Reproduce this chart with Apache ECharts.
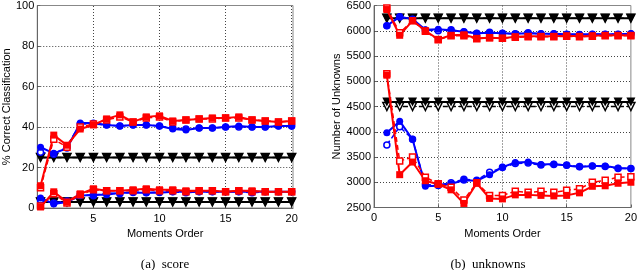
<!DOCTYPE html>
<html><head><meta charset="utf-8">
<script src="https://cdn.jsdelivr.net/npm/echarts@6/dist/echarts.min.js"></script>
<style>html,body{margin:0;padding:0;background:#fff}#c{width:640px;height:270px}</style>
</head><body><div id="c"></div>
<script>
// ---- data ----
var moments = [1,2,3,4,5,6,7,8,9,10,11,12,13,14,15,16,17,18,19,20];
var xTicks = [5,10,15,20];
var xTicksB = [0,5,10,15,20];

// (a) score
var scoreRedTopFilled  = [11,36,31,39,41,44,46,42.5,45,45.5,43,43.5,44,44.5,44.5,45,43.5,43,42.5,43];
var scoreRedTopOpen    = [10,34,30,40,41.5,43.5,45,42.5,44.5,45,42.5,43.5,44,44,44.5,44.5,43.5,43,42.5,43];
var scoreBlueTopFilled = [30,27,29.5,42,42,41,40.5,41,41,40.5,39,38.5,39.5,39.5,40,40.5,40,40,40.5,40.5];
var scoreBlueTopOpen   = [27.5,26.5,30.5,41.5,41.5,41,40.5,41,41,40.5,39.5,39,39.5,39.5,40,40,40,40,40.5,40.5];
var scoreRedBotFilled  = [0.5,8,3,7,9.5,8.5,8.5,9,9.5,9,9,8.5,8.5,8.5,8,8.5,8.5,8,8,8];
var scoreRedBotOpen    = [1,7,2.5,6.5,9,8.5,8.5,8.5,9,8.5,8.5,8,8.5,8.5,8,8.5,8,8,8,8];
var scoreBlueBotFilled = [5,2,3,6,6.5,6.5,7.5,7.5,7.5,7.5,8,8,8,8,8,8,8,8,8,8];
var scoreBlueBotOpen   = [4,2.5,3.5,6.5,6,7.5,7,8,7.5,8,8,7.5,8,8,8,8,7.5,8,8,8];
var scoreBlackTopFilled = [25,25,25,25,25,25,25,25,25,25,25,25,25,25,25,25,25,25,25,25];
var scoreBlackTopOpen   = [25,25,25,25,25,25,25,25,25,25,25,25,25,25,25,25,25,25,25,25];
var scoreBlackBotFilled = [3,3,3,3,3,3,3,3,3,3,3,3,3,3,3,3,3,3,3,3];
var scoreBlackBotOpen   = [3,3,3,3,3,3,3,3,3,3,3,3,3,3,3,3,3,3,3,3];
var scoreYTicks = [0,20,40,60,80,100];

// (b) unknowns
var unkRedTopFilled  = [6420,5910,6200,6000,5830,5910,5920,5850,5860,5850,5880,5890,5890,5890,5900,5890,5900,5910,5910,5910];
var unkRedTopOpen    = [6450,5960,6200,5990,5820,5900,5900,5840,5860,5850,5870,5880,5880,5880,5890,5880,5890,5900,5900,5900];
var unkBlueTopFilled = [6100,6280,6230,6020,6030,6010,5980,5950,5960,5950,5940,5950,5940,5940,5930,5930,5930,5930,5930,5940];
var unkBlueTopOpen   = [6100,6270,6230,6010,6000,6020,5980,5950,5970,5950,5940,5960,5940,5940,5930,5920,5930,5930,5930,5940];
var unkRedBotFilled  = [5120,3150,3400,3030,2960,2850,2580,2980,2680,2670,2750,2750,2740,2730,2740,2790,2920,2930,2980,3000];
var unkRedBotOpen    = [5150,3420,3500,3100,2970,2900,2650,2990,2740,2740,2820,2800,2820,2800,2840,2870,3000,3040,3100,3110];
var unkBlueBotFilled = [3980,4210,3850,2920,2930,2970,3040,3030,3150,3300,3390,3400,3350,3360,3330,3300,3320,3320,3280,3270];
var unkBlueBotOpen   = [3740,4100,3850,2950,2950,2990,3060,3040,3200,3290,3370,3380,3340,3350,3340,3310,3320,3310,3270,3270];
var unkBlackTopFilled = [6250,6250,6250,6250,6250,6250,6250,6250,6250,6250,6250,6250,6250,6250,6250,6250,6250,6250,6250,6250];
var unkBlackTopOpen   = [6250,6250,6250,6250,6250,6250,6250,6250,6250,6250,6250,6250,6250,6250,6250,6250,6250,6250,6250,6250];
var unkBlackMidFilled = [4590,4590,4590,4590,4590,4590,4590,4590,4590,4590,4590,4590,4590,4590,4590,4590,4590,4590,4590,4590];
var unkBlackMidOpen   = [4500,4500,4500,4500,4500,4500,4500,4500,4500,4500,4500,4500,4500,4500,4500,4500,4500,4500,4500,4500];
var unkYTicks = [2500,3000,3500,4000,4500,5000,5500,6000,6500];

// ---- chart ----
var BLUE = '#0000ff', RED = '#ff0000', BLACK = '#000000';
function pairs(vals){ return moments.map(function(m,i){ return [m, vals[i]]; }); }
function mk(idx, vals, color, shape, filled){
  var sym = shape === 'tri' ? 'triangle' : (shape === 'sq' ? 'rect' : 'circle');
  return {
    type: 'line', xAxisIndex: idx, yAxisIndex: idx, data: pairs(vals),
    symbol: sym, symbolRotate: shape === 'tri' ? 180 : 0,
    symbolSize: filled ? (shape === 'tri' ? 9 : 7) : (shape === 'tri' ? 8 : 6),
    showSymbol: true, animation: false, silent: true,
    lineStyle: { color: color, width: filled ? 2 : 1.5, type: filled ? 'solid' : [5,3] },
    itemStyle: filled ? { color: color, borderColor: color, borderWidth: 0 }
                      : { color: '#ffffff', borderColor: color, borderWidth: 1.5 },
    z: shape === 'tri' ? 2 : 3
  };
}
// dotted grid drawn as mark lines at the tick values (through the axis scales)
function withGrid(series, xs, ys){
  var d = xs.map(function(v){ return { xAxis: v }; })
            .concat(ys.map(function(v){ return { yAxis: v }; }));
  series.markLine = {
    silent: true, animation: false, symbol: ['none','none'], z: 1,
    label: { show: false },
    lineStyle: { color: '#444', type: [1,2], width: 1, opacity: 1 },
    emphasis: { disabled: true },
    data: d
  };
  series.z = 1;
  return series;
}
var lab = { fontFamily: 'Liberation Sans, Arial, sans-serif', fontSize: 11, color: '#000' };
function xAx(idx, min, max, ticks){
  return {
    type: 'value', gridIndex: idx, min: min, max: max,
    name: 'Moments Order', nameLocation: 'middle', nameGap: 17,
    nameTextStyle: lab,
    axisLine: { show: true, onZero: false, lineStyle: { color: '#666', width: 1 } },
    axisTick: { show: true, inside: true, length: 3, customValues: ticks, lineStyle: { color: '#666' } },
    axisLabel: Object.assign({ customValues: ticks, margin: 5 }, lab),
    splitLine: { show: false }
  };
}
function yAx(idx, min, max, interval, name, gap){
  return {
    type: 'value', gridIndex: idx, min: min, max: max, interval: interval,
    name: name, nameLocation: 'middle', nameGap: gap, nameRotate: 90,
    nameTextStyle: lab,
    axisLine: { show: true, lineStyle: { color: '#666', width: 1 } },
    axisTick: { show: true, inside: true, length: 3, lineStyle: { color: '#666' } },
    axisLabel: Object.assign({ margin: 3, formatter: function(v){ return String(v); } }, lab),
    splitLine: { show: false }
  };
}
var chart = echarts.init(document.getElementById('c'), null, { renderer: 'canvas' });
chart.setOption({
  backgroundColor: '#fff',
  animation: false,
  title: [
    { text: '(a)  score', left: 160, top: 253, textAlign: 'center',
      textStyle: { fontFamily: 'Liberation Serif, Times New Roman, serif', fontSize: 13, fontWeight: 'normal', color: '#000' } },
    { text: '(b)  unknowns', left: 483, top: 253, textAlign: 'center',
      textStyle: { fontFamily: 'Liberation Serif, Times New Roman, serif', fontSize: 13, fontWeight: 'normal', color: '#000' } }
  ],
  grid: [
    { left: 35, top: 3.5, width: 258, height: 204.5, show: true, borderColor: '#888', borderWidth: 1 },
    { left: 374, top: 3.5, width: 259.5, height: 204, show: true, borderColor: '#888', borderWidth: 1 }
  ],
  xAxis: [ xAx(0, 0.75, 20.1, xTicks), xAx(1, 0, 20, xTicksB) ],
  yAxis: [ yAx(0, scoreYTicks[0], scoreYTicks[scoreYTicks.length-1], 20, '% Correct Classification', 20),
           yAx(1, unkYTicks[0], unkYTicks[unkYTicks.length-1], 500, 'Number of Unknowns', 30) ],
  series: [
    withGrid(mk(0, scoreBlackTopOpen, BLACK, 'tri', false), xTicks, scoreYTicks.slice(1, -1)),
    mk(0, scoreBlackTopFilled, BLACK, 'tri', true),
    mk(0, scoreBlackBotOpen, BLACK, 'tri', false),
    mk(0, scoreBlackBotFilled, BLACK, 'tri', true),
    mk(0, scoreBlueTopOpen, BLUE, 'circ', false),
    mk(0, scoreBlueTopFilled, BLUE, 'circ', true),
    mk(0, scoreBlueBotOpen, BLUE, 'circ', false),
    mk(0, scoreBlueBotFilled, BLUE, 'circ', true),
    mk(0, scoreRedTopOpen, RED, 'sq', false),
    mk(0, scoreRedTopFilled, RED, 'sq', true),
    mk(0, scoreRedBotOpen, RED, 'sq', false),
    mk(0, scoreRedBotFilled, RED, 'sq', true),

    withGrid(mk(1, unkBlackTopOpen, BLACK, 'tri', false), xTicksB.slice(1, -1), unkYTicks.slice(1, -1)),
    mk(1, unkBlackTopFilled, BLACK, 'tri', true),
    mk(1, unkBlackMidOpen, BLACK, 'tri', false),
    mk(1, unkBlackMidFilled, BLACK, 'tri', true),
    mk(1, unkBlueTopOpen, BLUE, 'circ', false),
    mk(1, unkBlueTopFilled, BLUE, 'circ', true),
    mk(1, unkBlueBotOpen, BLUE, 'circ', false),
    mk(1, unkBlueBotFilled, BLUE, 'circ', true),
    mk(1, unkRedTopOpen, RED, 'sq', false),
    mk(1, unkRedTopFilled, RED, 'sq', true),
    mk(1, unkRedBotOpen, RED, 'sq', false),
    mk(1, unkRedBotFilled, RED, 'sq', true)
  ]
});
</script></body></html>
